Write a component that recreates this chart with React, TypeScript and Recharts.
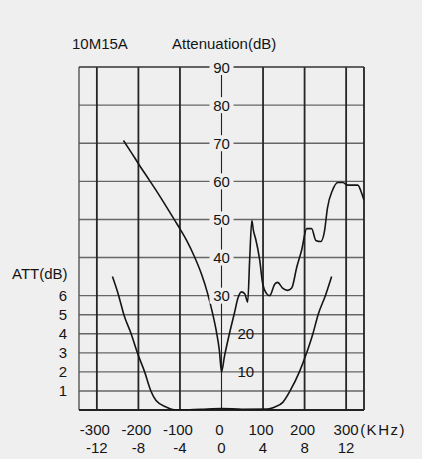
import React from "react";
import { LineChart, Line, XAxis, YAxis, ReferenceLine, ReferenceDot } from "recharts";

// stopband attenuation, outer scale (kHz) vs dB
const stopFreq = [-236, -215, -198, -173, -149, -125, -106, -84, -65, -48, -34, -22, -12, -5, 0, 7, 19, 31, 40, 48, 56, 63, 68, 73, 77, 82, 92, 99, 108, 116, 128, 135, 147, 159, 169, 181, 193, 205, 217, 227, 239, 248, 255, 267, 280, 292, 304, 316, 328, 337, 343];
const stopAtt = [70.7, 67.2, 64.3, 60.2, 56.2, 52, 48.6, 44.5, 40.2, 35.6, 30.8, 25.6, 20.4, 15.5, 10, 14, 20, 25.4, 29.5, 31, 30.5, 28.3, 40, 49.7, 47, 45, 39.3, 33.2, 30.6, 30, 33, 33.5, 32, 31.4, 32, 37.4, 42, 47.6, 47.6, 44.5, 44.2, 47, 53, 57.6, 59.7, 59.7, 59, 59, 59, 57, 55];

// passband, inner scale (kHz) vs ATT(dB)
const passFreq = [-10.5, -9.9, -9.4, -8.7, -8.1, -7.4, -6.8, -6.3, -5.3, -4.7, -4, -2, 0, 2, 4.4, 5.1, 5.9, 6.6, 7.5, 8.2, 8.8, 9.3, 10, 10.6];
const passAtt = [7, 6, 5, 4, 3, 2, 1, 0.5, 0.15, 0.03, 0, 0.04, 0.08, 0.04, 0.05, 0.15, 0.4, 1, 2, 3, 4, 5, 6, 7];

const outerTicks = [-300, -200, -100, 0, 100, 200, 300];
const innerTicks = ["-12", "-8", "-4", "0", "4", "8", "12"];
const attLabels = [90, 80, 70, 60, 50, 40, 30];
const lowAttLabels = [20, 10];
const passLabels = [1, 2, 3, 4, 5, 6];
const hGrid = [5, 10, 15, 20, 25, 30, 40, 50, 60, 70, 80];
const vGrid = [-300, -200, -100, 100, 200, 300];

const BG = "#efefef";
const INK = "#151515";
const FONT = "'Liberation Sans', Arial, sans-serif";

const stopData = stopFreq.map((f, i) => ({ x: f, y: stopAtt[i] }));
const passData = passFreq.map((f, i) => ({ x: f * 25, y: passAtt[i] * 5 }));

const FreqTick = (props: any) => {
  const { x, y, index } = props;
  const v = props.payload.value;
  const last = index === outerTicks.length - 1;
  return (
    <g fontFamily={FONT} fontSize={15} fill={INK}>
      <text x={last ? x : x - 2} y={y + 25} textAnchor="middle">{v}</text>
      {last && <text x={x + 14} y={y + 25} textAnchor="start" letterSpacing={1.5}>(KHz)</text>}
      <text x={x} y={y + 43} textAnchor="middle">{innerTicks[index]}</text>
    </g>
  );
};

const centerLabel = (v: number) => (p: any) => (
  <g>
    <rect x={p.cx - 12} y={p.cy - 8} width={24} height={16} fill={BG} />
    <text x={p.cx} y={p.cy + 5.5} textAnchor="middle" fontFamily={FONT} fontSize={15} fill={INK}>{v}</text>
  </g>
);

const sideLabel = (v: number) => (p: any) => (
  <text x={p.cx + 16} y={p.cy + 5.5} textAnchor="start" fontFamily={FONT} fontSize={15} fill={INK}>{v}</text>
);

export default function App() {
  return (
    <div style={{ position: "absolute", left: 0, top: 0, width: 422, height: 459, background: BG, overflow: "hidden" }}>
      <svg width={422} height={459} style={{ position: "absolute", left: 0, top: 0 }}>
        <text x={72} y={49} fontFamily={FONT} fontSize={15} fill={INK}>10M15A</text>
        <text x={172} y={49} fontFamily={FONT} fontSize={15} fill={INK}>Attenuation(dB)</text>
        <text x={12} y={279} fontFamily={FONT} fontSize={15} fill={INK}>ATT(dB)</text>
      </svg>
      <div style={{ position: "absolute", left: 0, top: 0 }}>
        <LineChart width={422} height={459} margin={{ top: 67, right: 58, bottom: 0, left: 0 }}>
          <XAxis type="number" dataKey="x" domain={[-343, 343]} ticks={outerTicks} allowDataOverflow
            axisLine={false} tickLine={false} tickSize={0} tickMargin={0} height={49} tick={<FreqTick />} interval={0} />
          <YAxis type="number" domain={[0, 90]} ticks={passLabels.map((v) => v * 5)} tickFormatter={(v: number) => String(v / 5)}
            width={79} axisLine={false} tickLine={false} tickSize={6} tickMargin={6} allowDataOverflow
            tick={{ fontFamily: FONT, fontSize: 15, fill: INK }} interval={0} />
          {hGrid.map((v) => (
            <ReferenceLine key={"h" + v} y={v} stroke="#666" strokeWidth={1.4} />
          ))}
          {vGrid.map((v) => (
            <ReferenceLine key={"v" + v} x={v} stroke="#262626" strokeWidth={1.8} />
          ))}
          <ReferenceLine x={0} stroke="#222" strokeWidth={1.1} />
          <ReferenceLine x={-343} stroke="#555" strokeWidth={1.4} />
          <ReferenceLine x={343} stroke="#222" strokeWidth={1.8} />
          <ReferenceLine y={90} stroke="#333" strokeWidth={1.6} />
          <ReferenceLine y={0} stroke="#222" strokeWidth={1.8} />
          <Line data={stopData} dataKey="y" type="monotone" stroke={INK} strokeWidth={1.6} dot={false} isAnimationActive={false} />
          <Line data={passData} dataKey="y" type="monotone" stroke={INK} strokeWidth={1.6} dot={false} isAnimationActive={false} />
          {attLabels.map((v) => (
            <ReferenceDot key={"a" + v} x={0} y={v} r={0} ifOverflow="visible" shape={centerLabel(v)} />
          ))}
          {lowAttLabels.map((v) => (
            <ReferenceDot key={"l" + v} x={0} y={v} r={0} ifOverflow="visible" shape={sideLabel(v)} />
          ))}
        </LineChart>
      </div>
    </div>
  );
}
